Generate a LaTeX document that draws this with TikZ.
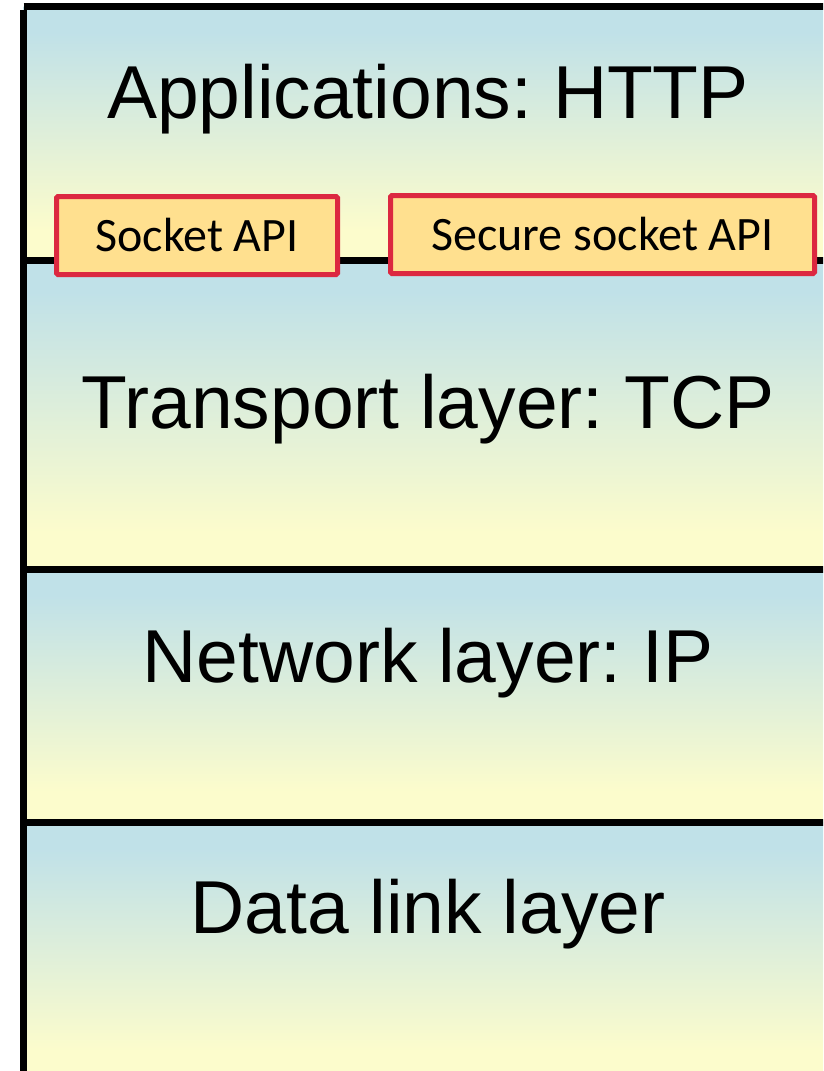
\documentclass[tikz,border=0pt]{standalone}
\usepackage{fontspec}
\newfontfamily\arialf{Liberation Sans}
\newfontfamily\calibf{Carlito}
\frenchspacing
\definecolor{layerblue}{RGB}{192,225,232}
\definecolor{layeryellow}{RGB}{252,252,204}
\definecolor{apired}{RGB}{220,40,64}
\definecolor{apifill}{RGB}{255,224,143}
\pgfdeclareverticalshading{layergrad}{100bp}{color(0bp)=(layeryellow); color(31bp)=(layeryellow); color(70bp)=(layerblue); color(100bp)=(layerblue)}
\tikzset{
  layer/.style={rectangle, inner sep=0pt, minimum width=812pt, anchor=north west,
    shading=layergrad, draw=none},
  layertext/.style={anchor=base, inner sep=0pt, font=\arialf\fontsize{75}{80}\selectfont},
  apibox/.style={rectangle, draw=apired, fill=apifill, line width=5pt, rounded corners=1.5pt,
    minimum height=78pt, inner sep=0pt, font=\calibf\fontsize{48}{52}\selectfont},
  sep/.style={line width=7pt, black},
}
\begin{document}
\begin{tikzpicture}[x=1pt,y=-1pt]
\useasboundingbox (0,0) rectangle (823,1071);
\clip (0,0) rectangle (823,1071);
\fill[white] (0,0) rectangle (823,1071);
% layers
\node[layer, minimum height=254pt] (app) at (23.5,6.5) {};
\node[layer, minimum height=309.5pt] (tra) at (23.5,260) {};
\node[layer, minimum height=252.5pt] (net) at (23.5,569.5) {};
\node[layer, minimum height=260pt] (dl) at (23.5,822) {};
% separators and border
\draw[sep] (app.north west) -- (app.north east);
\draw[sep] (app.south west) -- (app.south east);
\draw[sep] (tra.south west) -- (tra.south east);
\draw[sep] (net.south west) -- (net.south east);
\draw[sep] ([yshift=-3.5pt]app.north west) -- (dl.south west);
% texts
\node[layertext] (tapp) at (428,118) {Applications: HTTP};
\node[layertext] (ttra) at (428,428) {Transport layer: TCP};
\node[layertext] (tnet) at (428,682) {Network layer: IP};
\node[layertext] (tdl) at (428,933) {Data link layer};
% API boxes
\node[apibox, minimum width=281pt] (sock) at (197,235.5) {Socket API};
\node[apibox, minimum width=424pt] (ssock) at (602.5,234.5) {Secure socket API};
\end{tikzpicture}
\end{document}
